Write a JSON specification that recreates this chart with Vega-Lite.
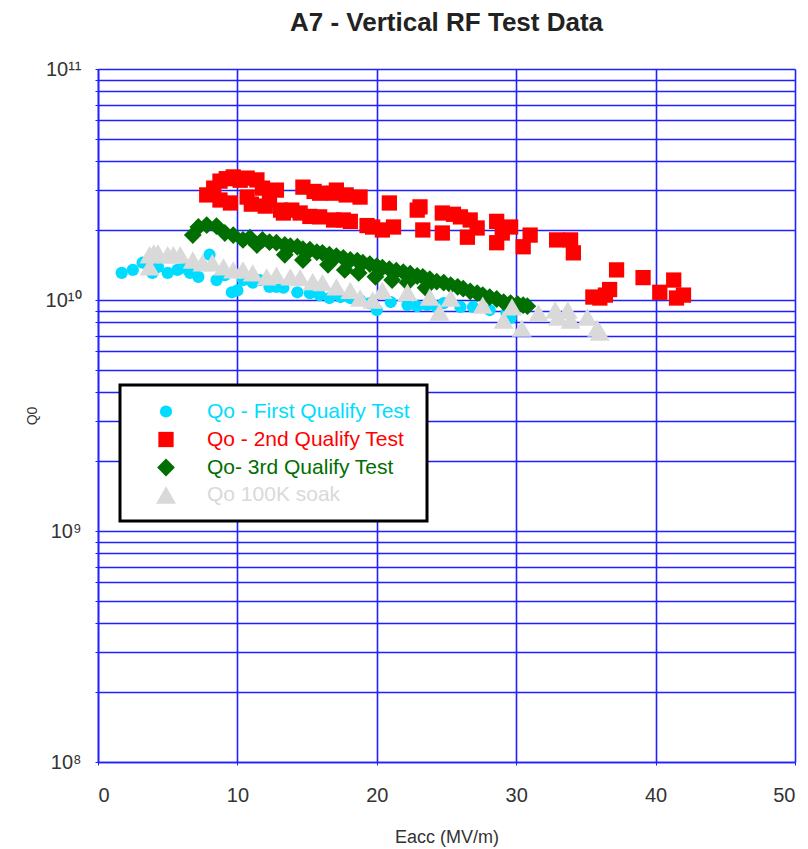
{
  "$schema": "https://vega.github.io/schema/vega-lite/v6.json",
  "width": 697,
  "height": 693,
  "autosize": {"type": "none"},
  "padding": {"left": 98, "top": 69, "right": 13, "bottom": 87},
  "background": "white",
  "title": {"text": "A7 - Vertical RF Test Data", "fontSize": 26, "fontWeight": "bold", "font": "Liberation Sans", "color": "#222222", "anchor": "middle", "frame": "group", "offset": 23},
  "data": {"values": [
    {"series": "Qo - First Qualify Test", "eacc": 1.7, "q0": 1.31e10},
    {"series": "Qo - First Qualify Test", "eacc": 2.5, "q0": 1.35e10},
    {"series": "Qo - First Qualify Test", "eacc": 3.2, "q0": 1.45e10},
    {"series": "Qo - First Qualify Test", "eacc": 3.9, "q0": 1.31e10},
    {"series": "Qo - First Qualify Test", "eacc": 4.3, "q0": 1.39e10},
    {"series": "Qo - First Qualify Test", "eacc": 5.0, "q0": 1.31e10},
    {"series": "Qo - First Qualify Test", "eacc": 5.7, "q0": 1.35e10},
    {"series": "Qo - First Qualify Test", "eacc": 6.1, "q0": 1.38e10},
    {"series": "Qo - First Qualify Test", "eacc": 6.6, "q0": 1.31e10},
    {"series": "Qo - First Qualify Test", "eacc": 7.2, "q0": 1.26e10},
    {"series": "Qo - First Qualify Test", "eacc": 8.0, "q0": 1.57e10},
    {"series": "Qo - First Qualify Test", "eacc": 8.5, "q0": 1.22e10},
    {"series": "Qo - First Qualify Test", "eacc": 9.1, "q0": 1.28e10},
    {"series": "Qo - First Qualify Test", "eacc": 9.6, "q0": 1.08e10},
    {"series": "Qo - First Qualify Test", "eacc": 10.0, "q0": 1.10e10},
    {"series": "Qo - First Qualify Test", "eacc": 10.4, "q0": 1.22e10},
    {"series": "Qo - First Qualify Test", "eacc": 11.1, "q0": 1.19e10},
    {"series": "Qo - First Qualify Test", "eacc": 11.6, "q0": 1.22e10},
    {"series": "Qo - First Qualify Test", "eacc": 12.3, "q0": 1.14e10},
    {"series": "Qo - First Qualify Test", "eacc": 12.8, "q0": 1.14e10},
    {"series": "Qo - First Qualify Test", "eacc": 13.3, "q0": 1.13e10},
    {"series": "Qo - First Qualify Test", "eacc": 14.3, "q0": 1.08e10},
    {"series": "Qo - First Qualify Test", "eacc": 15.2, "q0": 1.07e10},
    {"series": "Qo - First Qualify Test", "eacc": 15.9, "q0": 1.05e10},
    {"series": "Qo - First Qualify Test", "eacc": 16.6, "q0": 1.02e10},
    {"series": "Qo - First Qualify Test", "eacc": 17.4, "q0": 1.03e10},
    {"series": "Qo - First Qualify Test", "eacc": 18.1, "q0": 1.02e10},
    {"series": "Qo - First Qualify Test", "eacc": 18.8, "q0": 1.0e10},
    {"series": "Qo - First Qualify Test", "eacc": 19.5, "q0": 9.7e9},
    {"series": "Qo - First Qualify Test", "eacc": 20.0, "q0": 9.05e9},
    {"series": "Qo - First Qualify Test", "eacc": 21.0, "q0": 9.8e9},
    {"series": "Qo - First Qualify Test", "eacc": 22.2, "q0": 9.51e9},
    {"series": "Qo - First Qualify Test", "eacc": 22.9, "q0": 9.4e9},
    {"series": "Qo - First Qualify Test", "eacc": 23.6, "q0": 9.51e9},
    {"series": "Qo - First Qualify Test", "eacc": 24.3, "q0": 9.33e9},
    {"series": "Qo - First Qualify Test", "eacc": 24.8, "q0": 9.7e9},
    {"series": "Qo - First Qualify Test", "eacc": 26.0, "q0": 9.33e9},
    {"series": "Qo - First Qualify Test", "eacc": 26.9, "q0": 9.33e9},
    {"series": "Qo - First Qualify Test", "eacc": 28.1, "q0": 9.05e9},
    {"series": "Qo - First Qualify Test", "eacc": 29.3, "q0": 8.78e9},
    {"series": "Qo - First Qualify Test", "eacc": 29.6, "q0": 8.36e9},

    {"series": "Qo - 2nd Qualify Test", "eacc": 7.8, "q0": 2.85e10},
    {"series": "Qo - 2nd Qualify Test", "eacc": 8.3, "q0": 3.05e10},
    {"series": "Qo - 2nd Qualify Test", "eacc": 8.75, "q0": 3.27e10},
    {"series": "Qo - 2nd Qualify Test", "eacc": 9.2, "q0": 3.35e10},
    {"series": "Qo - 2nd Qualify Test", "eacc": 9.7, "q0": 3.41e10},
    {"series": "Qo - 2nd Qualify Test", "eacc": 10.2, "q0": 3.3e10},
    {"series": "Qo - 2nd Qualify Test", "eacc": 10.7, "q0": 3.37e10},
    {"series": "Qo - 2nd Qualify Test", "eacc": 11.4, "q0": 3.31e10},
    {"series": "Qo - 2nd Qualify Test", "eacc": 8.75, "q0": 2.71e10},
    {"series": "Qo - 2nd Qualify Test", "eacc": 9.5, "q0": 2.63e10},
    {"series": "Qo - 2nd Qualify Test", "eacc": 10.7, "q0": 2.79e10},
    {"series": "Qo - 2nd Qualify Test", "eacc": 11.0, "q0": 2.6e10},
    {"series": "Qo - 2nd Qualify Test", "eacc": 11.8, "q0": 3.05e10},
    {"series": "Qo - 2nd Qualify Test", "eacc": 12.0, "q0": 2.55e10},
    {"series": "Qo - 2nd Qualify Test", "eacc": 12.3, "q0": 2.71e10},
    {"series": "Qo - 2nd Qualify Test", "eacc": 12.8, "q0": 2.99e10},
    {"series": "Qo - 2nd Qualify Test", "eacc": 13.1, "q0": 2.45e10},
    {"series": "Qo - 2nd Qualify Test", "eacc": 13.3, "q0": 2.38e10},
    {"series": "Qo - 2nd Qualify Test", "eacc": 13.9, "q0": 2.45e10},
    {"series": "Qo - 2nd Qualify Test", "eacc": 14.7, "q0": 3.08e10},
    {"series": "Qo - 2nd Qualify Test", "eacc": 14.5, "q0": 2.38e10},
    {"series": "Qo - 2nd Qualify Test", "eacc": 15.2, "q0": 2.3e10},
    {"series": "Qo - 2nd Qualify Test", "eacc": 15.5, "q0": 2.95e10},
    {"series": "Qo - 2nd Qualify Test", "eacc": 15.9, "q0": 2.9e10},
    {"series": "Qo - 2nd Qualify Test", "eacc": 16.9, "q0": 2.9e10},
    {"series": "Qo - 2nd Qualify Test", "eacc": 15.9, "q0": 2.29e10},
    {"series": "Qo - 2nd Qualify Test", "eacc": 16.9, "q0": 2.22e10},
    {"series": "Qo - 2nd Qualify Test", "eacc": 17.6, "q0": 2.22e10},
    {"series": "Qo - 2nd Qualify Test", "eacc": 17.1, "q0": 2.99e10},
    {"series": "Qo - 2nd Qualify Test", "eacc": 17.8, "q0": 2.85e10},
    {"series": "Qo - 2nd Qualify Test", "eacc": 18.8, "q0": 2.79e10},
    {"series": "Qo - 2nd Qualify Test", "eacc": 18.1, "q0": 2.19e10},
    {"series": "Qo - 2nd Qualify Test", "eacc": 19.3, "q0": 2.1e10},
    {"series": "Qo - 2nd Qualify Test", "eacc": 19.7, "q0": 2.07e10},
    {"series": "Qo - 2nd Qualify Test", "eacc": 20.4, "q0": 2.01e10},
    {"series": "Qo - 2nd Qualify Test", "eacc": 20.9, "q0": 2.63e10},
    {"series": "Qo - 2nd Qualify Test", "eacc": 21.2, "q0": 2.07e10},
    {"series": "Qo - 2nd Qualify Test", "eacc": 22.9, "q0": 2.45e10},
    {"series": "Qo - 2nd Qualify Test", "eacc": 23.1, "q0": 2.53e10},
    {"series": "Qo - 2nd Qualify Test", "eacc": 23.3, "q0": 2.01e10},
    {"series": "Qo - 2nd Qualify Test", "eacc": 24.7, "q0": 2.38e10},
    {"series": "Qo - 2nd Qualify Test", "eacc": 24.7, "q0": 1.95e10},
    {"series": "Qo - 2nd Qualify Test", "eacc": 25.5, "q0": 2.35e10},
    {"series": "Qo - 2nd Qualify Test", "eacc": 26.0, "q0": 2.29e10},
    {"series": "Qo - 2nd Qualify Test", "eacc": 26.7, "q0": 2.22e10},
    {"series": "Qo - 2nd Qualify Test", "eacc": 26.5, "q0": 1.87e10},
    {"series": "Qo - 2nd Qualify Test", "eacc": 27.2, "q0": 2.05e10},
    {"series": "Qo - 2nd Qualify Test", "eacc": 28.6, "q0": 2.19e10},
    {"series": "Qo - 2nd Qualify Test", "eacc": 28.6, "q0": 1.77e10},
    {"series": "Qo - 2nd Qualify Test", "eacc": 29.0, "q0": 1.95e10},
    {"series": "Qo - 2nd Qualify Test", "eacc": 29.6, "q0": 2.07e10},
    {"series": "Qo - 2nd Qualify Test", "eacc": 30.5, "q0": 1.70e10},
    {"series": "Qo - 2nd Qualify Test", "eacc": 31.0, "q0": 1.91e10},
    {"series": "Qo - 2nd Qualify Test", "eacc": 32.9, "q0": 1.82e10},
    {"series": "Qo - 2nd Qualify Test", "eacc": 33.9, "q0": 1.82e10},
    {"series": "Qo - 2nd Qualify Test", "eacc": 34.1, "q0": 1.60e10},
    {"series": "Qo - 2nd Qualify Test", "eacc": 37.2, "q0": 1.35e10},
    {"series": "Qo - 2nd Qualify Test", "eacc": 35.5, "q0": 1.03e10},
    {"series": "Qo - 2nd Qualify Test", "eacc": 36.0, "q0": 1.02e10},
    {"series": "Qo - 2nd Qualify Test", "eacc": 36.4, "q0": 1.05e10},
    {"series": "Qo - 2nd Qualify Test", "eacc": 36.7, "q0": 1.11e10},
    {"series": "Qo - 2nd Qualify Test", "eacc": 39.1, "q0": 1.25e10},
    {"series": "Qo - 2nd Qualify Test", "eacc": 40.3, "q0": 1.08e10},
    {"series": "Qo - 2nd Qualify Test", "eacc": 41.3, "q0": 1.22e10},
    {"series": "Qo - 2nd Qualify Test", "eacc": 41.5, "q0": 1.02e10},
    {"series": "Qo - 2nd Qualify Test", "eacc": 42.0, "q0": 1.05e10},

    {"series": "Qo- 3rd Qualify Test", "eacc": 6.8, "q0": 1.91e10},
    {"series": "Qo- 3rd Qualify Test", "eacc": 7.2, "q0": 2.07e10},
    {"series": "Qo- 3rd Qualify Test", "eacc": 7.8, "q0": 2.11e10},
    {"series": "Qo- 3rd Qualify Test", "eacc": 8.5, "q0": 2.09e10},
    {"series": "Qo- 3rd Qualify Test", "eacc": 9.1, "q0": 1.95e10},
    {"series": "Qo- 3rd Qualify Test", "eacc": 9.7, "q0": 1.91e10},
    {"series": "Qo- 3rd Qualify Test", "eacc": 10.4, "q0": 1.82e10},
    {"series": "Qo- 3rd Qualify Test", "eacc": 10.9, "q0": 1.86e10},
    {"series": "Qo- 3rd Qualify Test", "eacc": 11.4, "q0": 1.73e10},
    {"series": "Qo- 3rd Qualify Test", "eacc": 11.8, "q0": 1.82e10},
    {"series": "Qo- 3rd Qualify Test", "eacc": 12.3, "q0": 1.78e10},
    {"series": "Qo- 3rd Qualify Test", "eacc": 12.8, "q0": 1.77e10},
    {"series": "Qo- 3rd Qualify Test", "eacc": 13.4, "q0": 1.73e10},
    {"series": "Qo- 3rd Qualify Test", "eacc": 13.8, "q0": 1.71e10},
    {"series": "Qo- 3rd Qualify Test", "eacc": 14.3, "q0": 1.70e10},
    {"series": "Qo- 3rd Qualify Test", "eacc": 14.7, "q0": 1.66e10},
    {"series": "Qo- 3rd Qualify Test", "eacc": 15.2, "q0": 1.65e10},
    {"series": "Qo- 3rd Qualify Test", "eacc": 15.7, "q0": 1.61e10},
    {"series": "Qo- 3rd Qualify Test", "eacc": 16.1, "q0": 1.60e10},
    {"series": "Qo- 3rd Qualify Test", "eacc": 16.6, "q0": 1.57e10},
    {"series": "Qo- 3rd Qualify Test", "eacc": 17.1, "q0": 1.55e10},
    {"series": "Qo- 3rd Qualify Test", "eacc": 17.6, "q0": 1.52e10},
    {"series": "Qo- 3rd Qualify Test", "eacc": 18.1, "q0": 1.49e10},
    {"series": "Qo- 3rd Qualify Test", "eacc": 18.6, "q0": 1.48e10},
    {"series": "Qo- 3rd Qualify Test", "eacc": 19.0, "q0": 1.45e10},
    {"series": "Qo- 3rd Qualify Test", "eacc": 19.5, "q0": 1.43e10},
    {"series": "Qo- 3rd Qualify Test", "eacc": 20.0, "q0": 1.40e10},
    {"series": "Qo- 3rd Qualify Test", "eacc": 20.4, "q0": 1.38e10},
    {"series": "Qo- 3rd Qualify Test", "eacc": 20.9, "q0": 1.36e10},
    {"series": "Qo- 3rd Qualify Test", "eacc": 21.4, "q0": 1.34e10},
    {"series": "Qo- 3rd Qualify Test", "eacc": 21.9, "q0": 1.32e10},
    {"series": "Qo- 3rd Qualify Test", "eacc": 22.4, "q0": 1.30e10},
    {"series": "Qo- 3rd Qualify Test", "eacc": 22.9, "q0": 1.27e10},
    {"series": "Qo- 3rd Qualify Test", "eacc": 23.3, "q0": 1.26e10},
    {"series": "Qo- 3rd Qualify Test", "eacc": 23.8, "q0": 1.23e10},
    {"series": "Qo- 3rd Qualify Test", "eacc": 24.3, "q0": 1.20e10},
    {"series": "Qo- 3rd Qualify Test", "eacc": 24.8, "q0": 1.19e10},
    {"series": "Qo- 3rd Qualify Test", "eacc": 25.3, "q0": 1.16e10},
    {"series": "Qo- 3rd Qualify Test", "eacc": 25.8, "q0": 1.14e10},
    {"series": "Qo- 3rd Qualify Test", "eacc": 26.2, "q0": 1.12e10},
    {"series": "Qo- 3rd Qualify Test", "eacc": 26.7, "q0": 1.09e10},
    {"series": "Qo- 3rd Qualify Test", "eacc": 27.2, "q0": 1.07e10},
    {"series": "Qo- 3rd Qualify Test", "eacc": 27.6, "q0": 1.05e10},
    {"series": "Qo- 3rd Qualify Test", "eacc": 28.1, "q0": 1.03e10},
    {"series": "Qo- 3rd Qualify Test", "eacc": 28.6, "q0": 1.01e10},
    {"series": "Qo- 3rd Qualify Test", "eacc": 29.1, "q0": 9.8e9},
    {"series": "Qo- 3rd Qualify Test", "eacc": 29.6, "q0": 9.7e9},
    {"series": "Qo- 3rd Qualify Test", "eacc": 30.1, "q0": 9.6e9},
    {"series": "Qo- 3rd Qualify Test", "eacc": 30.5, "q0": 9.5e9},
    {"series": "Qo- 3rd Qualify Test", "eacc": 30.8, "q0": 9.4e9},
    {"series": "Qo- 3rd Qualify Test", "eacc": 13.4, "q0": 1.57e10},
    {"series": "Qo- 3rd Qualify Test", "eacc": 14.7, "q0": 1.49e10},
    {"series": "Qo- 3rd Qualify Test", "eacc": 16.5, "q0": 1.42e10},
    {"series": "Qo- 3rd Qualify Test", "eacc": 17.7, "q0": 1.35e10},
    {"series": "Qo- 3rd Qualify Test", "eacc": 18.7, "q0": 1.31e10},
    {"series": "Qo- 3rd Qualify Test", "eacc": 19.9, "q0": 1.26e10},
    {"series": "Qo- 3rd Qualify Test", "eacc": 21.1, "q0": 1.22e10},
    {"series": "Qo- 3rd Qualify Test", "eacc": 22.2, "q0": 1.19e10},
    {"series": "Qo- 3rd Qualify Test", "eacc": 23.5, "q0": 1.13e10},

    {"series": "Qo 100K soak", "eacc": 3.7, "q0": 1.57e10},
    {"series": "Qo 100K soak", "eacc": 4.0, "q0": 1.60e10},
    {"series": "Qo 100K soak", "eacc": 4.3, "q0": 1.60e10},
    {"series": "Qo 100K soak", "eacc": 3.7, "q0": 1.39e10},
    {"series": "Qo 100K soak", "eacc": 5.0, "q0": 1.57e10},
    {"series": "Qo 100K soak", "eacc": 5.4, "q0": 1.57e10},
    {"series": "Qo 100K soak", "eacc": 5.9, "q0": 1.57e10},
    {"series": "Qo 100K soak", "eacc": 6.8, "q0": 1.49e10},
    {"series": "Qo 100K soak", "eacc": 7.5, "q0": 1.45e10},
    {"series": "Qo 100K soak", "eacc": 8.2, "q0": 1.45e10},
    {"series": "Qo 100K soak", "eacc": 9.0, "q0": 1.39e10},
    {"series": "Qo 100K soak", "eacc": 9.7, "q0": 1.35e10},
    {"series": "Qo 100K soak", "eacc": 10.4, "q0": 1.35e10},
    {"series": "Qo 100K soak", "eacc": 11.1, "q0": 1.31e10},
    {"series": "Qo 100K soak", "eacc": 12.1, "q0": 1.26e10},
    {"series": "Qo 100K soak", "eacc": 12.8, "q0": 1.28e10},
    {"series": "Qo 100K soak", "eacc": 13.8, "q0": 1.26e10},
    {"series": "Qo 100K soak", "eacc": 14.5, "q0": 1.25e10},
    {"series": "Qo 100K soak", "eacc": 15.4, "q0": 1.20e10},
    {"series": "Qo 100K soak", "eacc": 16.1, "q0": 1.19e10},
    {"series": "Qo 100K soak", "eacc": 17.1, "q0": 1.14e10},
    {"series": "Qo 100K soak", "eacc": 18.1, "q0": 1.10e10},
    {"series": "Qo 100K soak", "eacc": 18.8, "q0": 1.02e10},
    {"series": "Qo 100K soak", "eacc": 19.7, "q0": 1.00e10},
    {"series": "Qo 100K soak", "eacc": 20.4, "q0": 1.10e10},
    {"series": "Qo 100K soak", "eacc": 22.2, "q0": 1.08e10},
    {"series": "Qo 100K soak", "eacc": 23.8, "q0": 1.03e10},
    {"series": "Qo 100K soak", "eacc": 24.5, "q0": 8.87e9},
    {"series": "Qo 100K soak", "eacc": 25.3, "q0": 1.02e10},
    {"series": "Qo 100K soak", "eacc": 27.6, "q0": 9.51e9},
    {"series": "Qo 100K soak", "eacc": 29.1, "q0": 8.19e9},
    {"series": "Qo 100K soak", "eacc": 29.7, "q0": 9.33e9},
    {"series": "Qo 100K soak", "eacc": 30.4, "q0": 7.56e9},
    {"series": "Qo 100K soak", "eacc": 31.6, "q0": 8.78e9},
    {"series": "Qo 100K soak", "eacc": 32.8, "q0": 9.05e9},
    {"series": "Qo 100K soak", "eacc": 33.0, "q0": 8.44e9},
    {"series": "Qo 100K soak", "eacc": 33.7, "q0": 9.05e9},
    {"series": "Qo 100K soak", "eacc": 33.9, "q0": 8.19e9},
    {"series": "Qo 100K soak", "eacc": 35.1, "q0": 8.44e9},
    {"series": "Qo 100K soak", "eacc": 35.8, "q0": 7.56e9},
    {"series": "Qo 100K soak", "eacc": 36.0, "q0": 7.27e9}
  ]},
  "mark": {"type": "point", "filled": true, "opacity": 1, "strokeWidth": 0},
  "encoding": {
    "x": {
      "field": "eacc", "type": "quantitative",
      "scale": {"domain": [0, 50], "nice": false, "zero": false},
      "axis": {
        "title": "Eacc (MV/m)", "values": [0, 10, 20, 30, 40, 50],
        "grid": true, "gridColor": "#1f1fff", "gridWidth": 1.6, "gridOpacity": 1,
        "domainColor": "#1f1fff", "domainWidth": 1.6,
        "ticks": true, "tickColor": "#1f1fff", "tickSize": 3,
        "labelFont": "Liberation Sans", "labelFontSize": 20, "labelColor": "#333333", "labelPadding": 20,
        "titleFont": "Liberation Sans", "titleFontSize": 18, "titleFontWeight": "normal", "titleColor": "#333333", "titlePadding": 23
      }
    },
    "y": {
      "field": "q0", "type": "quantitative",
      "scale": {"type": "log", "domain": [100000000, 100000000000], "nice": false},
      "axis": {
        "title": "Q0",
        "values": [100000000, 200000000, 300000000, 400000000, 500000000, 600000000, 700000000, 800000000, 900000000,
                   1000000000, 2000000000, 3000000000, 4000000000, 5000000000, 6000000000, 7000000000, 8000000000, 9000000000,
                   10000000000, 20000000000, 30000000000, 40000000000, 50000000000, 60000000000, 70000000000, 80000000000, 90000000000,
                   100000000000],
        "labelExpr": "datum.value == 100000000000 ? '10¹¹' : datum.value == 10000000000 ? '10¹⁰' : datum.value == 1000000000 ? '10⁹' : datum.value == 100000000 ? '10⁸' : ''",
        "labelOverlap": false, "labelBound": false,
        "grid": true, "gridColor": "#1f1fff", "gridWidth": 1.6, "gridOpacity": 1,
        "domainColor": "#1f1fff", "domainWidth": 1.6,
        "ticks": true, "tickColor": "#1f1fff", "tickSize": 3,
        "labelFont": "Liberation Sans", "labelFontSize": 20, "labelColor": "#333333", "labelPadding": 14,
        "titleFont": "Liberation Sans", "titleFontSize": 14, "titleFontWeight": "normal", "titleColor": "#333333", "titlePadding": 6
      }
    },
    "color": {
      "field": "series", "type": "nominal",
      "scale": {"domain": ["Qo - First Qualify Test", "Qo - 2nd Qualify Test", "Qo- 3rd Qualify Test", "Qo 100K soak"],
                "range": ["#00dcff", "#ff0000", "#006e00", "#d9d9d9"]},
      "legend": {
        "title": null, "orient": "none", "legendX": 22, "legendY": 316,
        "padding": 16, "labelFont": "Liberation Sans", "labelFontSize": 21, "labelLimit": 400,
        "labelColor": {"expr": "scale('color', datum.value)"},
        "symbolOffset": 19, "labelOffset": 30, "rowPadding": 6,
        "strokeColor": "black", "fillColor": "white"
      }
    },
    "shape": {
      "field": "series", "type": "nominal",
      "scale": {"domain": ["Qo - First Qualify Test", "Qo - 2nd Qualify Test", "Qo- 3rd Qualify Test", "Qo 100K soak"],
                "range": ["circle", "square", "diamond", "triangle-up"]},
      "legend": {
        "title": null, "orient": "none", "legendX": 22, "legendY": 316,
        "padding": 16, "labelFont": "Liberation Sans", "labelFontSize": 21, "labelLimit": 400,
        "labelColor": {"expr": "scale('color', datum.value)"},
        "symbolOffset": 19, "labelOffset": 30, "rowPadding": 6,
        "strokeColor": "black", "fillColor": "white"
      }
    },
    "size": {
      "field": "series", "type": "nominal",
      "scale": {"domain": ["Qo - First Qualify Test", "Qo - 2nd Qualify Test", "Qo- 3rd Qualify Test", "Qo 100K soak"],
                "range": [150, 400, 160, 170]},
      "legend": {
        "title": null, "orient": "none", "legendX": 22, "legendY": 316,
        "padding": 16, "labelFont": "Liberation Sans", "labelFontSize": 21, "labelLimit": 400,
        "labelColor": {"expr": "scale('color', datum.value)"},
        "symbolOffset": 19, "labelOffset": 30, "rowPadding": 6,
        "strokeColor": "black", "fillColor": "white"
      }
    }
  },
  "config": {"view": {"stroke": null}, "font": "Liberation Sans", "legend": {"strokeWidth": 3}}
}
